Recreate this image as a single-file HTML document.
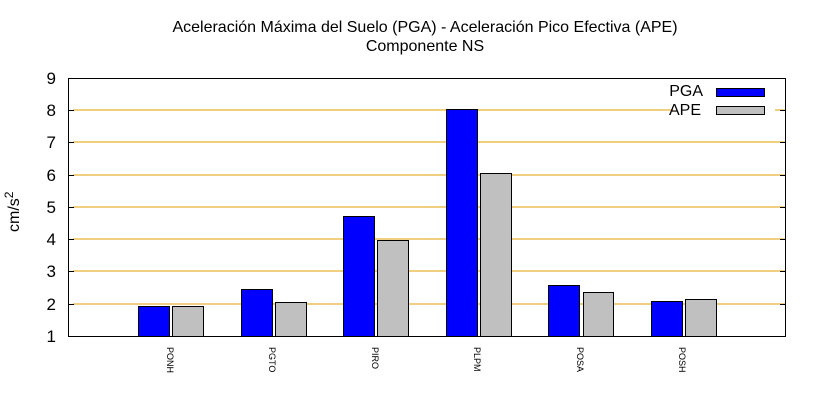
<!DOCTYPE html>
<html><head><style>body{margin:0;background:#fff}</style></head><body>
<svg width="820" height="400" xmlns="http://www.w3.org/2000/svg" font-family="Liberation Sans, sans-serif">
<rect width="820" height="400" fill="#fff"/>
<text x="425" y="32" text-anchor="middle" font-size="16">Aceleración Máxima del Suelo (PGA) -  Aceleración Pico Efectiva (APE)</text>
<text x="425" y="51" text-anchor="middle" font-size="16">Componente NS</text>
<g stroke="#e0a000" stroke-width="1">
<line x1="73" x2="786" y1="110" y2="110"/><line x1="73" x2="786" y1="142" y2="142"/>
<line x1="73" x2="786" y1="175" y2="175"/><line x1="73" x2="786" y1="207" y2="207"/>
<line x1="73" x2="786" y1="239" y2="239"/><line x1="73" x2="786" y1="271" y2="271"/>
<line x1="73" x2="786" y1="304" y2="304"/>
</g>
<rect x="673" y="105" width="102" height="10" fill="#fff"/>
<g font-size="17" text-anchor="end" fill="#000">
<text x="56" y="84">9</text><text x="56" y="116">8</text><text x="56" y="148">7</text>
<text x="56" y="181">6</text><text x="56" y="213">5</text><text x="56" y="245">4</text>
<text x="56" y="277">3</text><text x="56" y="310">2</text><text x="56" y="342">1</text>
</g>
<text transform="translate(19,232) rotate(-90)" font-size="16" text-anchor="start">cm/s<tspan dy="-6" font-size="12">2</tspan></text>
<g stroke="#000" stroke-width="1">
<rect x="138.5" y="306.5" width="31" height="30" fill="#0000ff"/><rect x="172.5" y="306.5" width="31" height="30" fill="#c0c0c0"/>
<rect x="241.5" y="289.5" width="31" height="47" fill="#0000ff"/><rect x="275.5" y="302.5" width="31" height="34" fill="#c0c0c0"/>
<rect x="343.5" y="216.5" width="31" height="120" fill="#0000ff"/><rect x="377.5" y="240.5" width="31" height="96" fill="#c0c0c0"/>
<rect x="446.5" y="109.5" width="31" height="227" fill="#0000ff"/><rect x="480.5" y="173.5" width="31" height="163" fill="#c0c0c0"/>
<rect x="548.5" y="285.5" width="31" height="51" fill="#0000ff"/><rect x="583.5" y="292.5" width="30" height="44" fill="#c0c0c0"/>
<rect x="651.5" y="301.5" width="31" height="35" fill="#0000ff"/><rect x="685.5" y="299.5" width="31" height="37" fill="#c0c0c0"/>
<rect x="716.5" y="88.5" width="48" height="8" fill="#0000ff"/><rect x="716.5" y="106.5" width="48" height="8" fill="#c0c0c0"/>
</g>
<text x="703" y="96" font-size="16" text-anchor="end">PGA</text>
<text x="701" y="115" font-size="16" text-anchor="end">APE</text>
<rect x="68.5" y="78.5" width="717" height="258" fill="none" stroke="#000" stroke-width="1"/>
<g stroke="#000"><line x1="68" x2="74" y1="110.5" y2="110.5"/><line x1="68" x2="74" y1="142.5" y2="142.5"/><line x1="68" x2="74" y1="175.5" y2="175.5"/><line x1="68" x2="74" y1="207.5" y2="207.5"/><line x1="68" x2="74" y1="239.5" y2="239.5"/><line x1="68" x2="74" y1="271.5" y2="271.5"/><line x1="68" x2="74" y1="304.5" y2="304.5"/>
<line x1="780" x2="786" y1="110.5" y2="110.5"/><line x1="780" x2="786" y1="142.5" y2="142.5"/><line x1="780" x2="786" y1="175.5" y2="175.5"/><line x1="780" x2="786" y1="207.5" y2="207.5"/><line x1="780" x2="786" y1="239.5" y2="239.5"/><line x1="780" x2="786" y1="271.5" y2="271.5"/><line x1="780" x2="786" y1="304.5" y2="304.5"/></g>
<g font-size="9">
<text transform="translate(167,347) rotate(90)">PONH</text>
<text transform="translate(269,347) rotate(90)">PGTO</text>
<text transform="translate(372,347) rotate(90)">PIRO</text>
<text transform="translate(474,347) rotate(90)">PLPM</text>
<text transform="translate(577,347) rotate(90)">POSA</text>
<text transform="translate(679,347) rotate(90)">POSH</text>
</g>
</svg>
</body></html>
